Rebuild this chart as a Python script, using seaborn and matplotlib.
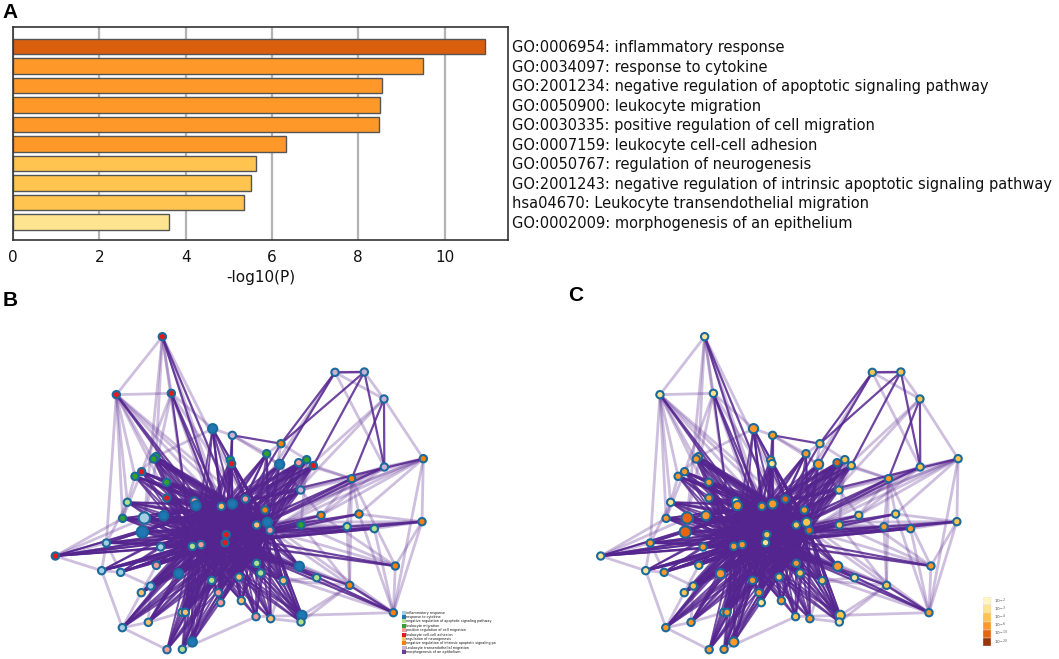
import numpy as np
import pandas as pd
import seaborn as sns
import matplotlib.pyplot as plt
from matplotlib.lines import Line2D
from matplotlib.patches import Rectangle

# ---- panel A data
terms = [
    "GO:0006954: inflammatory response",
    "GO:0034097: response to cytokine",
    "GO:2001234: negative regulation of apoptotic signaling pathway",
    "GO:0050900: leukocyte migration",
    "GO:0030335: positive regulation of cell migration",
    "GO:0007159: leukocyte cell-cell adhesion",
    "GO:0050767: regulation of neurogenesis",
    "GO:2001243: negative regulation of intrinsic apoptotic signaling pathway",
    "hsa04670: Leukocyte transendothelial migration",
    "GO:0002009: morphogenesis of an epithelium",
]
logp = [10.93, 9.51, 8.55, 8.50, 8.49, 6.33, 5.62, 5.52, 5.36, 3.62]
bar_colors = ["#d95f0e", "#fe9929", "#fe9929", "#fe9929", "#fe9929",
              "#fe9929", "#fec44f", "#fec44f", "#fec44f", "#fee391"]

# ---- network data (layout coordinates)
node_x = [487, 349, 514, 1005, 1093, 1152, 638, 697, 843, 1270,
          1153, 468, 461, 691, 695, 800, 839, 896, 920, 940,
          425, 405, 500, 1055, 902, 382, 500, 583, 588, 664,
          697, 736, 795, 368, 433, 491, 963, 1077, 1266, 770,
          802, 810, 903, 1041, 1123, 427, 319, 482, 577, 603,
          679, 675, 166, 305, 362, 469, 536, 770, 782, 717,
          898, 850, 950, 1186, 635, 452, 424, 655, 662, 724,
          1049, 546, 556, 445, 367, 768, 812, 906, 903, 1180,
          577, 501, 547]
node_y = [170, 344, 340, 277, 276, 357, 446, 466, 491, 536,
          561, 530, 537, 540, 551, 521, 553, 548, 539, 557,
          575, 589, 607, 596, 630, 667, 654, 663, 677, 679,
          672, 657, 690, 715, 714, 707, 706, 702, 725, 735,
          727, 751, 735, 740, 746, 756, 789, 801, 799, 794,
          764, 788, 828, 872, 877, 856, 881, 850, 879, 891,
          859, 902, 893, 858, 901, 918, 938, 938, 968, 962,
          916, 997, 997, 1027, 1043, 1010, 1016, 1006, 1026, 998,
          1086, 1109, 1108]
node_term = ["LA", "LA", "LA", "LT", "LT", "LT", "RC", "LT", "NI", "NI",
             "LT", "LM", "LM", "LM", "LA", "LM", "RC", "PM", "LM", "LA",
             "LA", "LM", "LM", "NI", "LT", "NA", "LA", "PM", "RC", "RN",
             "RC", "PM", "NI", "LM", "IR", "RC", "NI", "NI", "NI", "RN",
             "RC", "PM", "LM", "NA", "NA", "RC", "IR", "IR", "NA", "PM",
             "LA", "LA", "LA", "IR", "IR", "PM", "RC", "NA", "NA", "RN",
             "RC", "RN", "NA", "NI", "NA", "IR", "RN", "PM", "PM", "RN",
             "NI", "RN", "RN", "RN", "IR", "PM", "RN", "RC", "NA", "NI",
             "RC", "PM", "NA"]
node_level = [1, 1, 1, 2, 2, 2, 3, 3, 2, 2,
              2, 3, 3, 3, 1, 3, 3, 4, 2, 2,
              3, 3, 3, 3, 2, 1, 3, 1, 3, 3,
              3, 4, 3, 3, 4, 3, 2, 2, 2, 2,
              2, 4, 2, 3, 3, 4, 3, 3, 3, 3,
              2, 1, 1, 1, 3, 2, 3, 3, 2, 2,
              3, 2, 1, 3, 3, 2, 2, 3, 1, 3,
              2, 3, 3, 3, 3, 2, 3, 2, 1, 3,
              3, 3, 3]
node_size = [1] * 83
for i in (7, 17, 29, 31, 36, 41, 57, 61, 78, 81):
    node_size[i - 1] = 1.25
for i in (35, 46):
    node_size[i - 1] = 1.6

# dense centre: every fan node is linked to every core node
core_nodes = [49, 50, 51, 52, 30, 31, 40, 41, 42]
fan_nodes = [7, 12, 13, 14, 15, 16, 17, 18, 19, 20, 21, 22, 23, 25, 26, 27,
             28, 29, 32, 33, 34, 35, 36, 46, 47, 48, 53, 54, 55, 56, 57, 58, 59, 60,
             61, 62, 65, 66, 67, 68, 69, 70, 72, 73, 74, 75, 76, 77, 78, 79, 81, 82, 83]

strong_edges = {
    1: [51, 31], 2: [51, 52], 3: [30, 49, 51], 4: [5, 17, 9], 5: [20, 11],
    6: [11, 24], 8: [31, 52, 9], 9: [51, 5],
    24: [51, 52], 37: [52, 51], 38: [52, 51], 39: [51, 52],
    43: [52, 51, 49], 44: [51, 52], 45: [51, 52, 50], 63: [52, 51], 64: [52, 51],
    71: [52], 80: [51, 52, 71], 10: [31], 11: [41],
}
weak_edges = [
    (1, 2), (1, 3), (2, 3), (1, 12), (2, 26), (2, 34), (2, 47), (3, 21), (2, 30),
    (1, 35), (3, 35), (4, 5), (4, 6), (5, 6), (4, 11), (6, 10), (8, 16), (8, 17),
    (9, 16), (9, 19), (10, 11), (10, 24), (10, 39), (10, 37), (10, 38), (10, 80),
    (11, 24), (11, 25), (11, 37), (24, 37), (24, 44), (24, 38), (24, 71), (24, 64),
    (38, 39), (39, 45), (39, 64), (39, 80), (64, 80), (71, 80), (44, 71), (37, 64),
    (37, 43), (38, 80), (45, 80), (25, 24), (25, 37), (43, 71), (43, 64), (61, 71),
    (62, 71), (63, 80), (78, 71), (78, 80), (79, 71), (53, 47), (53, 54), (47, 54),
    (47, 55), (54, 75), (54, 55), (55, 66), (67, 75), (74, 75), (66, 74), (66, 67),
    (56, 67), (72, 82), (73, 83), (81, 73), (72, 74), (82, 75), (83, 76), (76, 78),
    (77, 79), (77, 62), (63, 62), (26, 34), (34, 21), (22, 26), (26, 47), (34, 53),
    (35, 53), (22, 2), (12, 7), (7, 3), (7, 8), (14, 8), (16, 25), (17, 25),
    (19, 25), (20, 25), (18, 24), (20, 24), (19, 43), (12, 22), (13, 23),
    (10, 51), (11, 51), (4, 52), (6, 52), (39, 52), (64, 52), (71, 51), (80, 49),
    (75, 49), (82, 52), (53, 40), (54, 40), (2, 40), (2, 41), (1, 40), (10, 40),
    (10, 42), (39, 42), (39, 41), (38, 42), (37, 40), (44, 41), (45, 40), (64, 42),
    (80, 41), (71, 42), (24, 42), (11, 42), (25, 41), (9, 41), (6, 41),
    (1, 30), (1, 49), (3, 52), (3, 40), (2, 49), (2, 50),
]

term_names = {
    "IR": "inflammatory response", "RC": "response to cytokine",
    "NA": "negative regulation of apoptotic signaling pathway",
    "LM": "leukocyte migration", "PM": "positive regulation of cell migration",
    "LA": "leukocyte cell-cell adhesion", "RN": "regulation of neurogenesis",
    "NI": "negative regulation of intrinsic apoptotic signaling pa",
    "LT": "Leukocyte transendothelial migration", "ME": "morphogenesis of an epithelium",
}
term_colors = {
    "IR": "#a6cee3", "RC": "#1f78b4", "NA": "#b2df8a", "LM": "#33a02c", "PM": "#fb9a99",
    "LA": "#e31a1c", "RN": "#fdbf6f", "NI": "#ff7f00", "LT": "#cab2d6", "ME": "#6a3d9a",
}
p_labels = ["$10^{-2}$", "$10^{-3}$", "$10^{-4}$", "$10^{-6}$", "$10^{-10}$", "$10^{-20}$"]
p_colors = ["#fff5c4", "#fee391", "#fec44f", "#fe9929", "#e8650f", "#993404"]

sns.set_style("white")
plt.rcParams["font.family"] = ["DejaVu Sans"]
plt.rcParams["text.color"] = "#111111"

W, H = 1059, 659
fig = plt.figure(figsize=(W / 100, H / 100), dpi=100)


def px_axes(left, top, width, height):
    return fig.add_axes([left / W, 1 - (top + height) / H, width / W, height / H])


# ---------------- panel A
ax = px_axes(13, 27, 495, 213)
df = pd.DataFrame({"term": terms, "logp": logp})
sns.barplot(data=df, x="logp", y="term", hue="term", palette=bar_colors, legend=False,
            orient="h", width=0.8, saturation=1, edgecolor="#555555", linewidth=1.0, ax=ax)
ax.set_xlim(0, 11.47)
ax.set_ylim(9.93, -1.0)
ax.set_xticks([0, 2, 4, 6, 8, 10])
ax.xaxis.grid(True, color="#b3b3b3", lw=1.6)
ax.set_axisbelow(True)
ax.yaxis.tick_right()
ax.tick_params(axis="y", length=0, pad=3, labelsize=10.5, labelcolor="#111111")
ax.tick_params(axis="x", length=4, width=1, labelsize=11, color="#333333", labelcolor="#111111")
ax.set_ylabel("")
ax.set_xlabel("-log10(P)", fontsize=11, labelpad=3, color="#111111")
for s in ax.spines.values():
    s.set_color("#333333")
    s.set_linewidth(1.2)


# ---------------- network panels
def draw_network(ax, colors):
    xs, ys = np.array(node_x), np.array(node_y)

    def link(a, b, **kw):
        ax.plot([xs[a - 1], xs[b - 1]], [ys[a - 1], ys[b - 1]], **kw)

    for a, b in weak_edges:
        link(a, b, color="#6a3d9a", alpha=0.33, lw=2.0, solid_capstyle="round", zorder=1)
    for a in fan_nodes:
        for b in core_nodes:
            if a != b:
                link(a, b, color="#55258f", alpha=0.8, lw=1.4, zorder=2)
    for i, a in enumerate(core_nodes):
        for b in core_nodes[i + 1:]:
            link(a, b, color="#55258f", alpha=0.9, lw=2.0, zorder=2)
    for a, nbrs in strong_edges.items():
        for b in nbrs:
            link(a, b, color="#55258f", alpha=0.85, lw=1.6, zorder=2)
    nd = pd.DataFrame({"x": node_x, "y": node_y, "c": colors, "s": node_size})
    sns.scatterplot(data=nd, x="x", y="y", hue="c", palette={c: c for c in set(colors)},
                    size="s", sizes=(28, 66), edgecolor="#1b6a9c", linewidth=1.5,
                    legend=False, ax=ax, zorder=3)
    ax.set_xlim(0, 1560)
    ax.set_ylim(1137, 0)
    ax.axis("off")


ax_b = px_axes(0, 280, 520, 379)
draw_network(ax_b, [term_colors[t] for t in node_term])
handles = [Line2D([], [], marker="s", ls="", markersize=2.2, markerfacecolor=term_colors[k],
                  markeredgewidth=0) for k in term_names]
ax_b.legend(handles, list(term_names.values()), fontsize=2.4, frameon=False,
            loc="upper left", bbox_to_anchor=(401 / W, 1 - 609 / H),
            bbox_transform=fig.transFigure, handlelength=0.6, handletextpad=0.4,
            labelspacing=0.12, borderpad=0)

ax_c = px_axes(547, 280, 505, 379)
draw_network(ax_c, [p_colors[l] for l in node_level])

# p-value colour key
ax_k = px_axes(983, 597, 40, 49)
for i, (lab, col) in enumerate(zip(p_labels, p_colors)):
    ax_k.add_patch(Rectangle((0, i), 1, 1, facecolor=col, edgecolor="#dddddd", lw=0.3))
    ax_k.text(1.4, i + 0.5, lab, fontsize=3.2, va="center", color="#555555")
ax_k.set_xlim(0, 5)
ax_k.set_ylim(6, 0)
ax_k.axis("off")

# panel letters
for lx, ly, letter in ((2, 3, "A"), (3, 291, "B"), (568, 286, "C")):
    fig.text(lx / W, 1 - ly / H, letter, fontsize=15, fontweight="bold", va="top",
             family="Liberation Sans", color="black")

fig.savefig("out.png", dpi=100)
